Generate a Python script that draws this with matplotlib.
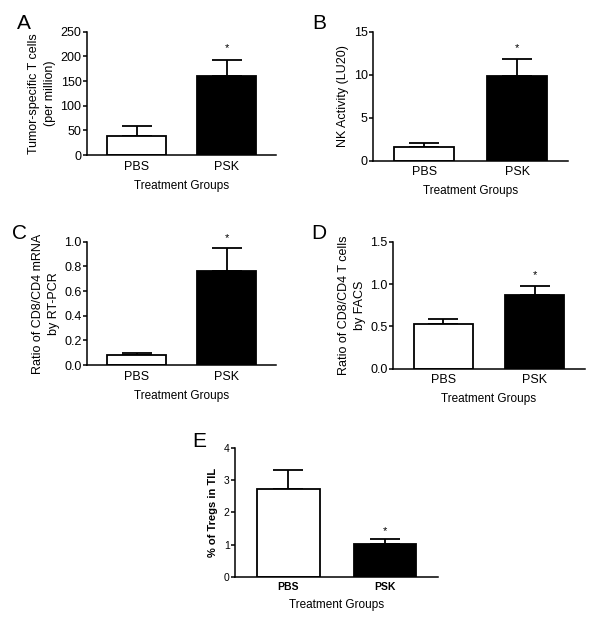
import numpy as np
import matplotlib
matplotlib.use("Agg")
import matplotlib.pyplot as plt

plt.rcParams['font.family'] = ['Liberation Sans', 'DejaVu Sans']

# =============================================================================
# DATOS
# =============================================================================
grupos = ['PBS', 'PSK']

a_media = [38, 161]
a_err = [21, 31]

b_media = [1.6, 9.8]
b_err = [0.5, 2.0]

c_media = [0.078, 0.765]
c_err = [0.017, 0.183]

d_media = [0.53, 0.87]
d_err = [0.055, 0.11]

e_media = [2.74, 1.02]
e_err = [0.59, 0.16]

paneles = [
    # letra, medias, errores, ylabel, ylim, ticks, eje [l, b, w, h], pos letra, sig, offset asterisco
    ('A', a_media, a_err, 'Tumor-specific T cells\n(per million)', (0, 250),
     [0, 50, 100, 150, 200, 250], [0.145, 0.751, 0.315, 0.198], (0.028, 0.978), 1, 0.10),
    ('B', b_media, b_err, 'NK Activity (LU20)', (0, 15),
     [0, 5, 10, 15], [0.622, 0.742, 0.325, 0.207], (0.52, 0.978), 1, 0.09),
    ('C', c_media, c_err, 'Ratio of CD8/CD4 mRNA\nby RT-PCR', (0, 1.0),
     [0.0, 0.2, 0.4, 0.6, 0.8, 1.0], [0.145, 0.414, 0.315, 0.198], (0.02, 0.64), 1, 0.085),
    ('D', d_media, d_err, 'Ratio of CD8/CD4 T cells\nby FACS', (0, 1.5),
     [0.0, 0.5, 1.0, 1.5], [0.655, 0.408, 0.32, 0.204], (0.518, 0.64), 1, 0.085),
    ('E', e_media, e_err, '% of Tregs in TIL', (0, 4),
     [0, 1, 2, 3, 4], [0.392, 0.074, 0.338, 0.207], (0.32, 0.306), 1, 0.06),
]

fig = plt.figure(figsize=(6.0, 6.23), dpi=100)

for letra, medias, errs, ylab, ylim, ticks, rect, pos, sig, off in paneles:
    ax = fig.add_axes(rect)
    x = np.arange(len(grupos))
    ax.bar(x, medias, width=0.65, color=['white', 'black'], edgecolor='black',
           linewidth=1.3, zorder=2)
    ax.errorbar(x, medias, yerr=[np.zeros(len(errs)), errs], fmt='none',
                ecolor='black', elinewidth=1.3, capsize=11, capthick=1.3, zorder=1)
    ax.set_xlim(-0.55, 1.55)
    ax.set_ylim(*ylim)
    ax.set_yticks(ticks)
    ax.set_xticks(x)
    ax.spines['top'].set_visible(False)
    ax.spines['right'].set_visible(False)
    ax.spines['left'].set_linewidth(1.1)
    ax.spines['bottom'].set_linewidth(1.1)
    ax.tick_params(axis='x', length=0, pad=4)
    ax.tick_params(axis='y', length=3, width=1.1, pad=1)

    # asterisco de significancia
    rango = ylim[1] - ylim[0]
    ax.text(sig, medias[sig] + errs[sig] + off * rango, '*', ha='center',
            va='center', fontsize=8)

    if letra == 'E':
        ax.set_xticklabels(grupos, fontsize=7.5, fontweight='bold')
        ax.set_yticklabels([str(t) for t in ticks], fontsize=7.5)
        ax.set_ylabel(ylab, fontsize=8, fontweight='bold', labelpad=4)
    else:
        ax.set_xticklabels(grupos, fontsize=9)
        if isinstance(ticks[0], float):
            ax.set_yticklabels([f"{t:.1f}" for t in ticks], fontsize=9)
        else:
            ax.set_yticklabels([str(t) for t in ticks], fontsize=9)
        ax.set_ylabel(ylab, fontsize=9, labelpad=3, linespacing=1.45)
    ax.set_xlabel('Treatment Groups', fontsize=8.5, labelpad=5)

    fig.text(pos[0], pos[1], letra, fontsize=15, ha='left', va='top')

plt.savefig("out.png", dpi=100)
